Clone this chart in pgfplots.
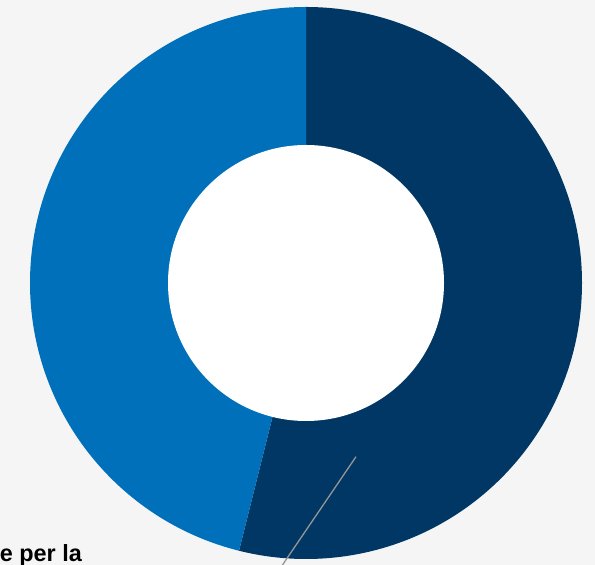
\documentclass[border=0pt]{standalone}
\usepackage{pgfplots}
\pgfplotsset{compat=1.18}
\usepackage{fontspec}
\setmainfont{Liberation Sans}

\definecolor{navy}{RGB}{0,55,100}
\definecolor{midblue}{RGB}{0,112,186}
\definecolor{bgcol}{RGB}{245,245,245}
\definecolor{leader}{RGB}{150,150,150}

% share of each slice, in percent
\def\shareA{53.9}
\def\shareB{46.1}

\begin{document}
\begin{tikzpicture}
\pgfmathsetmacro{\endA}{90-3.6*\shareA}
\begin{axis}[
  width=595bp, height=565bp,
  scale only axis,
  xmin=0, xmax=595, ymin=0, ymax=565,
  hide axis,
  clip=true,
]
  \fill[bgcol] (axis cs:0,0) rectangle (axis cs:595,565);
  % slices
  \fill[navy] (axis cs:306,282) -- ++(90:276bp)
    arc[start angle=90, end angle=\endA, radius=276bp] -- cycle;
  \fill[midblue] (axis cs:306,282) -- ++(90:276bp)
    arc[start angle=90, end angle=\endA+360, radius=276bp] -- cycle;
  % hole
  \fill[white] (axis cs:306,282) circle[radius=138bp];
  % leader line
  \addplot[leader, line width=1.3bp] coordinates {(356,108.3) (276,-9.5)};
  \node[anchor=base east, font=\bfseries\fontsize{23.5}{28}\selectfont,
        inner sep=0pt] at (axis cs:82,3.5) {e per la};
\end{axis}
\end{tikzpicture}
\end{document}
